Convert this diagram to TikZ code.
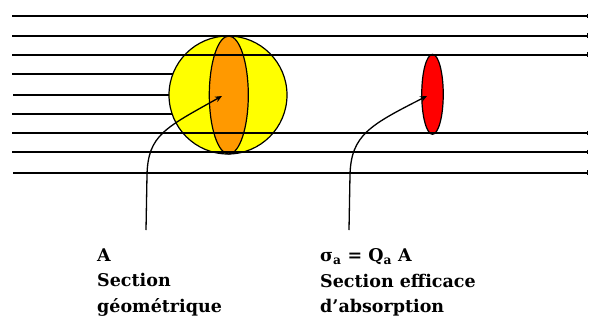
\documentclass[tikz,border=0pt]{standalone}
\usepackage{fontspec}
\setmainfont{DejaVu Serif}
\usetikzlibrary{positioning,arrows.meta,shapes.geometric}
\definecolor{sunyellow}{RGB}{255,255,0}
\definecolor{coreorange}{RGB}{255,153,0}
\definecolor{discred}{RGB}{255,0,0}
\tikzset{
  ray/.style   ={line width=1.6pt, -{Bar[width=4.5pt,line width=1pt]}},
  stopray/.style={line width=1.6pt},
  sphere/.style={circle, draw=black, line width=1.2pt, fill=sunyellow,
                 minimum size=118pt, inner sep=0pt},
  disc/.style  ={ellipse, draw=black, line width=1.2pt, inner sep=0pt},
  ar/.style    ={-{Stealth[length=7pt,width=6pt]}, line width=1.3pt},
  lbl/.style   ={font=\fontsize{17.5}{25.5}\selectfont\bfseries, align=left,
                 anchor=north west, inner sep=0pt},
}
\begin{document}
\begin{tikzpicture}[x=1pt,y=-1pt]
\useasboundingbox (0,0) rectangle (589,322);

% rays stopped by the sphere
\draw[stopray] (12,73.7) -- (228,73.7);
\draw[stopray] (13,95) -- (228,95);
\draw[stopray] (12,114) -- (228,114);

% sphere and its geometric cross section
\node[sphere] (sph) at (228,95) {};
\node[disc, fill=coreorange, minimum width=39pt, minimum height=118pt] (geo) at (228.8,95) {};

% absorbing cross section
\node[disc, fill=discred, minimum width=21.5pt, minimum height=80pt] (abs) at (432.5,94.3) {};

% rays going through
\draw[ray, line width=2pt] (12,16) -- (588,16);
\draw[ray] (12,35.7) -- (588,35.7);
\draw[ray] (12,54.7) -- (588,54.7);
\draw[ray] (12,133) -- (588,133);
\draw[ray] (12,152) -- (588,152);
\draw[ray] (13,172.7) -- (588,172.7);

% labels
\node[lbl] (lblgeo) at (97,248.5) {A\\Section\\géométrique};
\node[lbl] (lblabs) at (320,248.5) {σ\textsubscript{a} = Q\textsubscript{a} A\\Section efficace\\d’absorption};

% pointers
\coordinate (geotip) at (222,96);
\coordinate (abstip) at (427,96);
\coordinate (geofoot) at (146,230);
\coordinate (absfoot) at (349,230);
\draw[ar] (geofoot) -- (147,175) .. controls (148,135) and (165,128) .. (geotip);
\draw[ar] (absfoot) -- (350,175) .. controls (351,135) and (370,125) .. (abstip);
\end{tikzpicture}
\end{document}
